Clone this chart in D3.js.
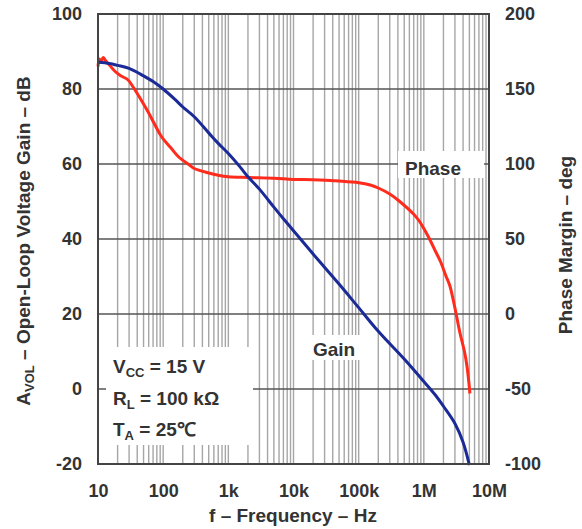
<!DOCTYPE html>
<html>
<head>
<meta charset="utf-8">
<script src="https://cdn.jsdelivr.net/npm/d3@7"></script>
<style>
  html, body { margin: 0; padding: 0; background: #fff; }
  svg { display: block; }
  text { font-family: "Liberation Sans", Arial, sans-serif; fill: #333; }
</style>
</head>
<body>
<svg id="chart" width="582" height="529"></svg>
<script>
// ---- data ----
const freqTicks = [10, 100, 1e3, 1e4, 1e5, 1e6, 1e7];
const freqTickLabels = ["10", "100", "1k", "10k", "100k", "1M", "10M"];
const gainTicks = [-20, 0, 20, 40, 60, 80, 100];
const phaseTicks = [-100, -50, 0, 50, 100, 150, 200];

const gainFreq = [10, 15, 20, 30, 50, 70, 100, 150, 200, 300, 500, 700, 1000, 1500, 2000, 3000, 5000, 7000,
  10000, 20000, 50000, 100000, 200000, 500000, 1e6, 1.5e6, 2e6, 3e6, 4e6, 5e6];
const gainDb = [87.2, 86.8, 86.3, 85.5, 83.5, 82, 80, 77.3, 75.2, 72.6, 68.3, 65.5, 62.8, 59.3, 56.6, 53.3, 48.5, 45.4,
  42.2, 36, 28, 21.7, 15.4, 8, 2, -1.6, -4.6, -9.2, -14.2, -20.3];

const phaseFreq = [10, 10.5, 11, 12, 13, 15, 18, 22, 29, 35, 40, 50, 60, 75, 95, 130, 170, 250, 300, 500, 700, 1000,
  2000, 5000, 10000, 20000, 50000, 100000, 150000, 200000, 300000, 400000, 700000, 850000, 1e6, 1.24e6, 1.5e6,
  1.8e6, 2.2e6, 2.5e6, 3e6, 3.6e6, 4.2e6, 4.6e6, 5.1e6];
const phaseDeg = [165, 170, 168, 171, 169, 166, 162, 159, 156, 151, 147, 140, 134, 126, 118, 111, 105, 99.5, 97, 94, 92.5, 91.5,
  91, 90.5, 89.7, 89.5, 88.6, 87.5, 86, 84, 80, 76, 66.5, 62, 57, 49.5, 42,
  35, 25, 19, 4, -13, -25, -35, -53];

// ---- layout ----
const L = 98, R = 489, T = 14, B = 464;
const svg = d3.select("#chart");

const x = d3.scaleLog().domain([10, 1e7]).range([L, R]);
const yG = d3.scaleLinear().domain([-20, 100]).range([B, T]);
const yP = d3.scaleLinear().domain([-100, 200]).range([B, T]);

// vertical grid (minor + decades)
const vGrid = [];
for (let d = 10; d < 1e7; d *= 10) for (let m = 1; m <= 9; m++) { const v = m * d; if (v > 10 && v < 1e7) vGrid.push(v); }
svg.append("g").selectAll("line").data(vGrid).join("line")
  .attr("x1", d => x(d)).attr("x2", d => x(d)).attr("y1", T).attr("y2", B)
  .attr("stroke", "#a6a6a6").attr("stroke-width", 1.4);

// horizontal grid
svg.append("g").selectAll("line").data(gainTicks.filter(v => v > -20 && v < 100)).join("line")
  .attr("x1", L).attr("x2", R).attr("y1", d => yG(d)).attr("y2", d => yG(d))
  .attr("stroke", "#555").attr("stroke-width", 1.3);

// label boxes (white, covering grid)
svg.append("rect").attr("x", 106).attr("y", 347).attr("width", 147).attr("height", 98).attr("fill", "#fff");
svg.append("rect").attr("x", 398).attr("y", 151).attr("width", 86).attr("height", 27).attr("fill", "#fff");
svg.append("rect").attr("x", 311).attr("y", 335).attr("width", 49).attr("height", 25).attr("fill", "#fff");

// curves
const phaseData = phaseFreq.map((f, i) => [f, phaseDeg[i]]);
const gainData = gainFreq.map((f, i) => [f, gainDb[i]]);
svg.append("path").datum(phaseData)
  .attr("d", d3.line().x(d => x(d[0])).y(d => yP(d[1])).curve(d3.curveCatmullRom.alpha(0.5)))
  .attr("fill", "none").attr("stroke", "#ff2b1c").attr("stroke-width", 3).attr("stroke-linejoin", "round");
svg.append("path").datum(gainData)
  .attr("d", d3.line().x(d => x(d[0])).y(d => yG(d[1])).curve(d3.curveCatmullRom.alpha(0.5)))
  .attr("fill", "none").attr("stroke", "#1a2a96").attr("stroke-width", 3).attr("stroke-linejoin", "round");

// frame
svg.append("rect").attr("x", L).attr("y", T).attr("width", R - L).attr("height", B - T)
  .attr("fill", "none").attr("stroke", "#444").attr("stroke-width", 2);

// axes (labels only)
const tickFont = g => g.selectAll("text").attr("font-size", 18).attr("font-weight", "bold").style("fill", "#333");
const xAxis = svg.append("g").attr("transform", `translate(0,${B})`)
  .call(d3.axisBottom(x).tickValues(freqTicks).tickFormat((d, i) => freqTickLabels[i]).tickSize(0).tickPadding(20));
xAxis.select(".domain").remove(); tickFont(xAxis);
xAxis.selectAll("text").attr("dy", "0.71em");

const yAxisL = svg.append("g").attr("transform", `translate(${L},0)`)
  .call(d3.axisLeft(yG).tickValues(gainTicks).tickFormat(d => String(d)).tickSize(0).tickPadding(16));
yAxisL.select(".domain").remove(); tickFont(yAxisL);

const yAxisR = svg.append("g").attr("transform", `translate(${R},0)`)
  .call(d3.axisRight(yP).tickValues(phaseTicks).tickFormat(d => String(d)).tickSize(0).tickPadding(16));
yAxisR.select(".domain").remove(); tickFont(yAxisR);

// axis titles
svg.append("text").attr("x", 293).attr("y", 522).attr("text-anchor", "middle")
  .attr("font-size", 19).attr("font-weight", "bold").text("f – Frequency – Hz");

const lt = svg.append("text").attr("transform", "translate(30,241) rotate(-90)").attr("text-anchor", "middle")
  .attr("font-size", 19).attr("font-weight", "bold");
lt.append("tspan").text("A");
lt.append("tspan").attr("font-size", 13).attr("dy", 4).text("VOL");
lt.append("tspan").attr("dy", -4).text(" – Open-Loop Voltage Gain – dB");

svg.append("text").attr("transform", "translate(572,245) rotate(-90)").attr("text-anchor", "middle")
  .attr("font-size", 19).attr("font-weight", "bold").text("Phase Margin – deg");

// curve labels
svg.append("text").attr("x", 405).attr("y", 175).attr("font-size", 19).attr("font-weight", "bold").text("Phase");
svg.append("text").attr("x", 313).attr("y", 356).attr("font-size", 19).attr("font-weight", "bold").text("Gain");

// conditions
const conds = [["V", "CC", " = 15 V"], ["R", "L", " = 100 kΩ"], ["T", "A", " = 25℃"]];
conds.forEach((c, i) => {
  const t = svg.append("text").attr("x", 113).attr("y", 373 + i * 31.5).attr("font-size", 19).attr("font-weight", "bold");
  t.append("tspan").text(c[0]);
  t.append("tspan").attr("font-size", 13).attr("dy", 4).text(c[1]);
  t.append("tspan").attr("dy", -4).text(c[2]);
});
</script>
</body>
</html>
